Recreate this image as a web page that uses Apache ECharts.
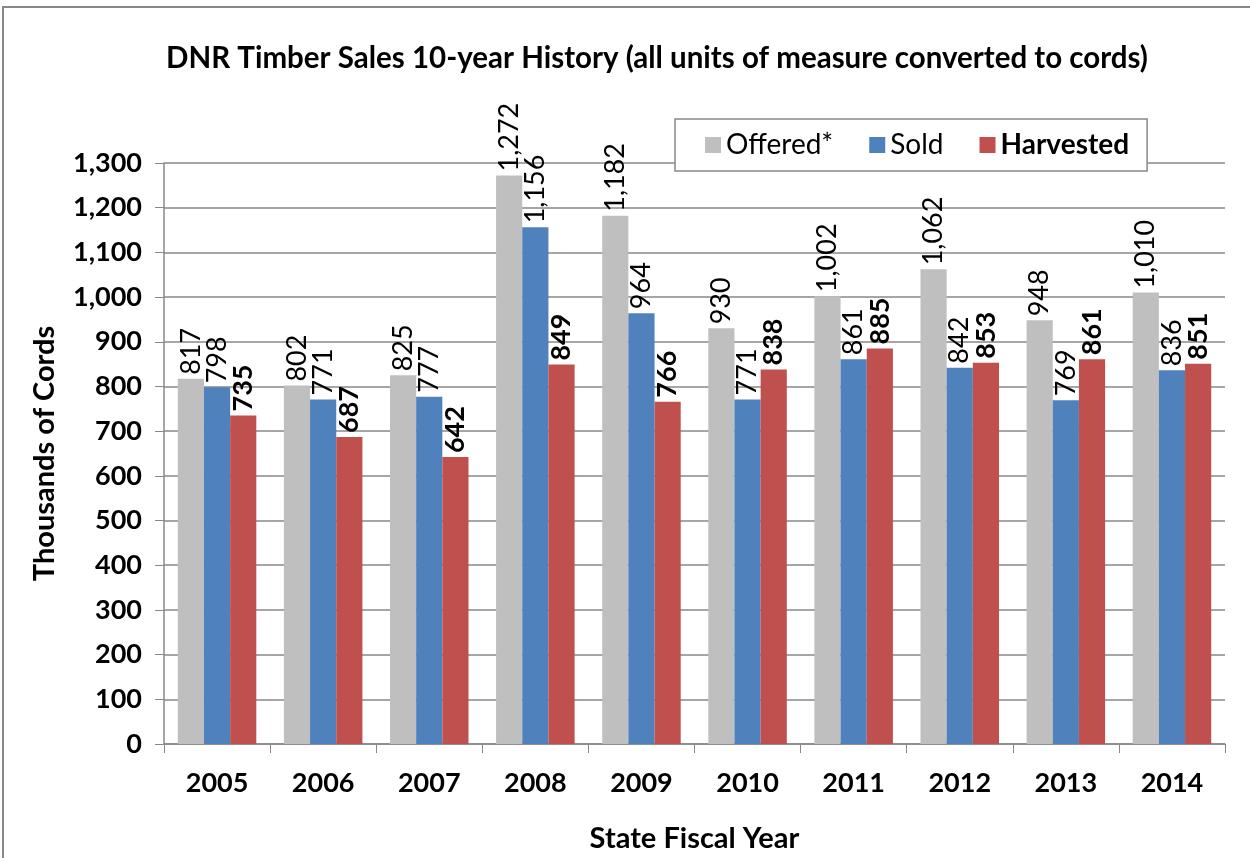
<!DOCTYPE html>
<html><head><meta charset="utf-8">
<script src="https://cdn.jsdelivr.net/npm/echarts@6/dist/echarts.min.js"></script>
<style>html,body{margin:0;padding:0;background:#fff}#c{width:1250px;height:858px}</style>
</head><body><div id="c"></div>
<script>
const categories = ['2005','2006','2007','2008','2009','2010','2011','2012','2013','2014'];
const offered = [817, 802, 825, 1272, 1182, 930, 1002, 1062, 948, 1010];
const sold = [798, 771, 777, 1156, 964, 771, 861, 842, 769, 836];
const harvested = [735, 687, 642, 849, 766, 838, 885, 853, 861, 851];
const yTicks = {min: 0, max: 1300, interval: 100};

const FONT = 'Lato, "Open Sans", sans-serif';
const fmt = v => Number(v).toLocaleString('en-US');
function lbl(bold){
  return {show:true, position:'top', rotate:90, align:'left', verticalAlign:'middle', distance:4,
    fontFamily:FONT, fontSize:27, color:'#000', fontWeight: bold?'bold':'normal',
    formatter: p => fmt(p.value)};
}
const chart = echarts.init(document.getElementById('c'));
chart.setOption({
  animation:false,
  textStyle:{fontFamily:FONT},
  graphic:[{type:'rect', shape:{x:3,y:7,width:1300,height:900}, style:{fill:'none', stroke:'#888', lineWidth:2}, silent:true}],
  title:{text:'DNR Timber Sales 10-year History (all units of measure converted to cords)', left:652, top:38, textAlign:'center',
    textStyle:{fontFamily:FONT, fontSize:29.5, fontWeight:'bold', color:'#000'}},
  legend:{left:675, top:119, padding:[12,18,12,30], itemGap:36, itemWidth:16, itemHeight:16, icon:'rect',
    borderColor:'#888', borderWidth:1.5, backgroundColor:'#fff',
    textStyle:{fontFamily:FONT, fontSize:28, color:'#000'},
    data:[{name:'Offered*'},{name:'Sold'},{name:'Harvested', textStyle:{fontWeight:'bold'}}]},
  grid:{left:164, right:25, top:163, bottom:114},
  xAxis:{type:'category', data:categories,
    name:'State Fiscal Year', nameLocation:'middle', nameGap:80,
    nameTextStyle:{fontFamily:FONT, fontSize:29, fontWeight:'bold', color:'#000'},
    axisLine:{lineStyle:{color:'#888', width:1.5}},
    axisTick:{show:true, length:9, lineStyle:{color:'#888'}},
    axisLabel:{fontFamily:FONT, fontSize:27, fontWeight:'bold', color:'#000', margin:26}},
  yAxis:{type:'value', min:yTicks.min, max:yTicks.max, interval:yTicks.interval,
    name:'Thousands of Cords', nameLocation:'middle', nameGap:105,
    nameTextStyle:{fontFamily:FONT, fontSize:29, fontWeight:'bold', color:'#000'},
    axisLine:{show:true, lineStyle:{color:'#888', width:1.5}},
    axisTick:{show:true, length:9, lineStyle:{color:'#888'}},
    splitLine:{lineStyle:{color:'#888', width:1.5}},
    axisLabel:{fontFamily:FONT, fontSize:27, fontWeight:'bold', color:'#000', margin:22, formatter: v => fmt(v)}},
  series:[
    {name:'Offered*', type:'bar', data:offered, barGap:'0%', barCategoryGap:'26%', itemStyle:{color:'#BFBFBF'}, label:lbl(false)},
    {name:'Sold', type:'bar', data:sold, barGap:'0%', barCategoryGap:'26%', itemStyle:{color:'#4F81BD'}, label:lbl(false)},
    {name:'Harvested', type:'bar', data:harvested, barGap:'0%', barCategoryGap:'26%', itemStyle:{color:'#C0504D'}, label:lbl(true)}
  ]
});
</script></body></html>
